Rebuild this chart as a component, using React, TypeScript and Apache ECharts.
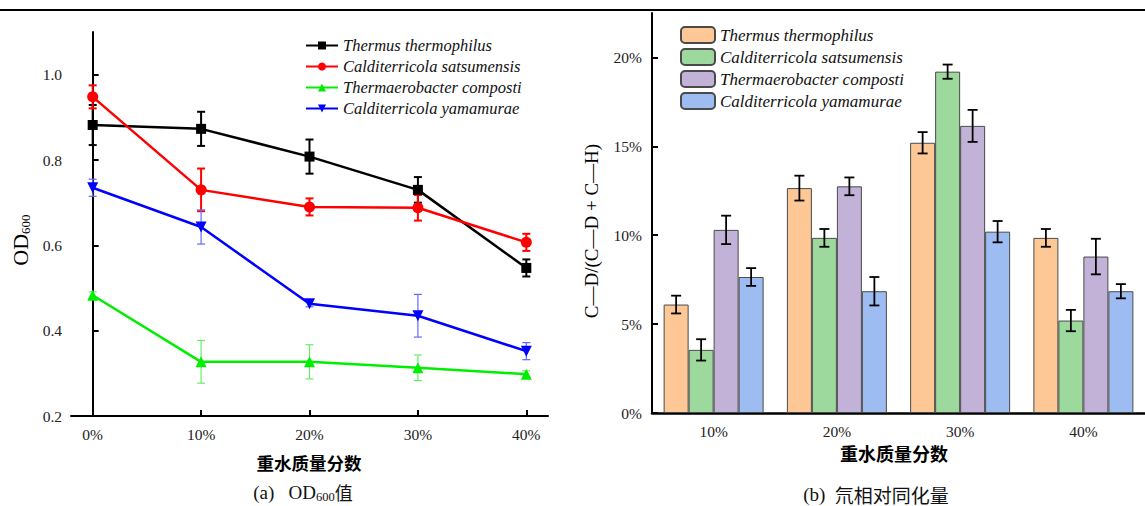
import React, { useEffect, useRef } from "react";
import * as echarts from "echarts";

// ---------- data ----------
const speciesNames = [
  "Thermus thermophilus",
  "Calditerricola satsumensis",
  "Thermaerobacter composti",
  "Calditerricola yamamurae",
];

// (a) OD600
const categoriesA = ["0%", "10%", "20%", "30%", "40%"];
const odTT = [0.882, 0.873, 0.808, 0.73, 0.547];
const odTTErr = [0.047, 0.04, 0.04, 0.03, 0.02];
const odCS = [0.948, 0.73, 0.69, 0.688, 0.607];
const odCSErr = [0.027, 0.05, 0.02, 0.03, 0.02];
const odTC = [0.483, 0.327, 0.327, 0.313, 0.298];
const odTCErr = [0.008, 0.05, 0.04, 0.03, 0.008];
const odCY = [0.735, 0.643, 0.463, 0.435, 0.352];
const odCYErr = [0.02, 0.04, 0.007, 0.05, 0.02];
const yTicksA = [0.2, 0.4, 0.6, 0.8, 1.0];

// (b) deuterium assimilation (%)
const categoriesB = ["10%", "20%", "30%", "40%"];
const cdTT = [6.1, 12.65, 15.2, 9.85];
const cdTTErr = [0.5, 0.7, 0.6, 0.5];
const cdCS = [3.55, 9.85, 19.2, 5.2];
const cdCSErr = [0.6, 0.5, 0.4, 0.6];
const cdTC = [10.3, 12.75, 16.15, 8.8];
const cdTCErr = [0.8, 0.5, 0.9, 1.0];
const cdCY = [7.65, 6.85, 10.2, 6.85];
const cdCYErr = [0.5, 0.8, 0.6, 0.4];
const yTicksB = [0, 5, 10, 15, 20];

// ---------- styles ----------
const SERIF = "Liberation Serif";
const CJK = "Noto Sans CJK SC";
const lineColors = ["#000000", "#ff0000", "#00ee00", "#0000ff"];
const errColorsA = ["#000000", "#ff0000", "#66ee66", "#6666ff"];
const errWidthsA = [2, 2, 1.2, 1.2];
const symbolsA = ["rect", "circle", "triangle", "triangle"];
const symbolRotA = [0, 0, 0, 180];
const symbolSizeA = [10, 11, 11, 11];
const barColors = ["#fdc896", "#9dd89c", "#c2b2d7", "#9cbcf2"];

function makeLeftOption() {
  const vals = [odTT, odCS, odTC, odCY];
  const errs = [odTTErr, odCSErr, odTCErr, odCYErr];
  const lineSeries = vals.map((v, s) => ({
    name: speciesNames[s],
    type: "line",
    data: v.map((y, i) => [i, y]),
    symbol: symbolsA[s],
    symbolRotate: symbolRotA[s],
    symbolSize: symbolSizeA[s],
    lineStyle: { color: lineColors[s], width: 2.5 },
    itemStyle: { color: lineColors[s] },
    z: 3,
  }));
  const errSeries = vals.map((v, s) => ({
    type: "custom",
    name: "err" + s,
    data: v.map((y, i) => [i, y, errs[s][i]]),
    encode: { x: 0, y: 1 },
    z: 2,
    renderItem: (params: any, api: any) => {
      const x = api.value(0);
      const y = api.value(1);
      const e = api.value(2);
      const top = api.coord([x, y + e]);
      const bot = api.coord([x, y - e]);
      const cw = 4;
      const st = { stroke: errColorsA[s], lineWidth: errWidthsA[s] };
      return {
        type: "group",
        children: [
          { type: "line", shape: { x1: top[0], y1: top[1], x2: bot[0], y2: bot[1] }, style: st },
          { type: "line", shape: { x1: top[0] - cw, y1: top[1], x2: top[0] + cw, y2: top[1] }, style: st },
          { type: "line", shape: { x1: bot[0] - cw, y1: bot[1], x2: bot[0] + cw, y2: bot[1] }, style: st },
        ],
      };
    },
  }));

  return {
    animation: false,
    textStyle: { fontFamily: SERIF },
    graphic: [
      { type: "line", shape: { x1: 0, y1: 10, x2: 600, y2: 10 }, style: { stroke: "#000", lineWidth: 2 } },
      {
        type: "text",
        x: 20,
        y: 240,
        rotation: Math.PI / 2,
        style: {
          text: "{a|OD}{b|600}",
          align: "center",
          verticalAlign: "middle",
          rich: {
            a: { fontFamily: SERIF, fontSize: 22, lineHeight: 24, fill: "#000" },
            b: { fontFamily: SERIF, fontSize: 13, lineHeight: 12, verticalAlign: "bottom", fill: "#000" },
          },
        },
      },
      {
        type: "text",
        x: 309,
        y: 462,
        style: {
          text: "重水质量分数",
          fontFamily: CJK,
          fontWeight: "bold",
          fontSize: 17.5,
          fill: "#000",
          align: "center",
          verticalAlign: "middle",
        },
      },
      {
        type: "text",
        x: 303,
        y: 492,
        style: {
          text: "{n|(a)   OD}{s|600}{c|值}",
          align: "center",
          verticalAlign: "middle",
          rich: {
            n: { fontFamily: SERIF, fontSize: 19, lineHeight: 22, fill: "#111" },
            s: { fontFamily: SERIF, fontSize: 12.5, lineHeight: 12, verticalAlign: "bottom", fill: "#111" },
            c: { fontFamily: CJK, fontSize: 18, lineHeight: 22, fill: "#111" },
          },
        },
      },
    ],
    legend: {
      orient: "vertical",
      left: 305,
      top: 37,
      padding: 0,
      itemWidth: 32,
      itemHeight: 10,
      itemGap: 4,
      data: speciesNames,
      textStyle: { fontFamily: SERIF, fontStyle: "italic", fontSize: 16.5, color: "#111" },
    },
    grid: { left: 71, top: 32, width: 477, height: 384 },
    xAxis: {
      type: "value",
      min: -0.2,
      max: 4.2,
      axisLine: { lineStyle: { color: "#000", width: 2 } },
      axisTick: { inside: true, length: 6, customValues: [0, 1, 2, 3, 4], lineStyle: { color: "#000", width: 2 } },
      axisLabel: {
        customValues: [0, 1, 2, 3, 4],
        formatter: (v: number) => categoriesA[Math.round(v)],
        fontFamily: SERIF,
        fontSize: 15.5,
        color: "#222",
        margin: 10,
      },
      splitLine: { show: false },
    },
    yAxis: {
      type: "value",
      min: 0.2,
      max: 1.1,
      axisLine: { lineStyle: { color: "#000", width: 2 } },
      axisTick: { inside: true, length: 6, customValues: yTicksA, lineStyle: { color: "#000", width: 2 } },
      axisLabel: {
        customValues: yTicksA,
        formatter: (v: number) => v.toFixed(1),
        fontFamily: SERIF,
        fontSize: 15.5,
        color: "#222",
        margin: 9,
      },
      splitLine: { show: false },
    },
    series: [...lineSeries, ...errSeries],
  };
}

function makeRightOption() {
  const vals = [cdTT, cdCS, cdTC, cdCY];
  const errs = [cdTTErr, cdCSErr, cdTCErr, cdCYErr];
  const barW = 25;
  const barSeries = vals.map((v, s) => ({
    name: speciesNames[s],
    type: "bar",
    data: v,
    barWidth: barW,
    barGap: "0%",
    itemStyle: { color: barColors[s], borderColor: "#4a4a4a", borderWidth: 1 },
    z: 2,
  }));
  const errSeries = vals.map((v, s) => ({
    type: "custom",
    name: "berr" + s,
    data: v.map((y, i) => [i, y, errs[s][i]]),
    encode: { x: 0, y: 1 },
    z: 5,
    renderItem: (params: any, api: any) => {
      const x = api.value(0);
      const y = api.value(1);
      const e = api.value(2);
      const off = (s - 1.5) * barW;
      const top = api.coord([x, y + e]);
      const bot = api.coord([x, y - e]);
      const cx = top[0] + off;
      const cw = 5;
      const st = { stroke: "#000", lineWidth: 1.8 };
      return {
        type: "group",
        children: [
          { type: "line", shape: { x1: cx, y1: top[1], x2: cx, y2: bot[1] }, style: st },
          { type: "line", shape: { x1: cx - cw, y1: top[1], x2: cx + cw, y2: top[1] }, style: st },
          { type: "line", shape: { x1: cx - cw, y1: bot[1], x2: cx + cw, y2: bot[1] }, style: st },
        ],
      };
    },
  }));

  return {
    animation: false,
    textStyle: { fontFamily: SERIF },
    graphic: [
      { type: "line", shape: { x1: -10, y1: 10, x2: 600, y2: 10 }, style: { stroke: "#000", lineWidth: 2 } },
      {
        type: "text",
        x: 11,
        y: 231,
        rotation: Math.PI / 2,
        style: {
          text: "C—D/(C—D + C—H)",
          fontFamily: SERIF,
          fontSize: 19,
          fill: "#000",
          align: "center",
          verticalAlign: "middle",
        },
      },
      {
        type: "text",
        x: 314,
        y: 453,
        style: {
          text: "重水质量分数",
          fontFamily: CJK,
          fontWeight: "bold",
          fontSize: 18,
          fill: "#000",
          align: "center",
          verticalAlign: "middle",
        },
      },
      {
        type: "text",
        x: 296,
        y: 494,
        style: {
          text: "{n|(b)  }{c|氘相对同化量}",
          align: "center",
          verticalAlign: "middle",
          rich: {
            n: { fontFamily: SERIF, fontSize: 19, lineHeight: 22, fill: "#111" },
            c: { fontFamily: CJK, fontSize: 19, lineHeight: 22, fill: "#111" },
          },
        },
      },
    ],
    legend: {
      orient: "vertical",
      left: 100,
      top: 26,
      padding: 0,
      itemWidth: 34,
      itemHeight: 16,
      itemGap: 4,
      data: speciesNames,
      textStyle: { fontFamily: SERIF, fontStyle: "italic", fontSize: 17, color: "#111" },
    },
    grid: { left: 72, top: 13, width: 496, height: 400 },
    xAxis: {
      type: "category",
      data: categoriesB,
      boundaryGap: true,
      axisLine: { lineStyle: { color: "#000", width: 2.5 } },
      axisTick: { inside: true, alignWithLabel: true, length: 5, lineStyle: { color: "#000", width: 2 } },
      axisLabel: { fontFamily: SERIF, fontSize: 15.5, color: "#222", margin: 10 },
    },
    yAxis: {
      type: "value",
      min: 0,
      max: 22.5,
      axisLine: { show: true, lineStyle: { color: "#000", width: 2 } },
      axisTick: { show: true, inside: true, length: 6, customValues: yTicksB, lineStyle: { color: "#000", width: 2 } },
      axisLabel: {
        customValues: yTicksB,
        formatter: (v: number) => v + "%",
        fontFamily: SERIF,
        fontSize: 15.5,
        color: "#222",
        margin: 10,
      },
      splitLine: { show: false },
    },
    series: [...barSeries, ...errSeries],
  };
}

export default function App() {
  const leftRef = useRef<HTMLDivElement>(null);
  const rightRef = useRef<HTMLDivElement>(null);
  useEffect(() => {
    const l = echarts.init(leftRef.current!, undefined, { renderer: "svg" });
    const r = echarts.init(rightRef.current!, undefined, { renderer: "svg" });
    l.setOption(makeLeftOption() as any);
    r.setOption(makeRightOption() as any);
    return () => {
      l.dispose();
      r.dispose();
    };
  }, []);
  return (
    <div style={{ position: "fixed", left: 0, top: 0, width: 1145, height: 506, background: "#fff" }}>
      <div ref={leftRef} style={{ position: "absolute", left: 0, top: 0, width: 580, height: 506 }} />
      <div ref={rightRef} style={{ position: "absolute", left: 580, top: 0, width: 565, height: 506 }} />
    </div>
  );
}
